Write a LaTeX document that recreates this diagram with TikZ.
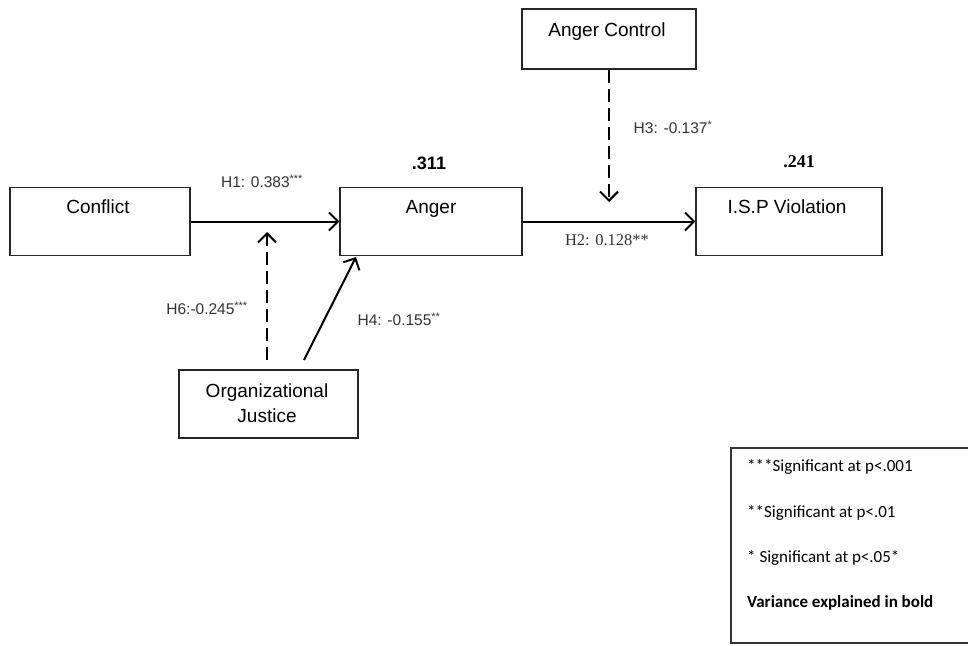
\documentclass[tikz,border=0pt]{standalone}
\usepackage{fontspec}
\setmainfont{Liberation Sans}
\newfontfamily\tmsfont{Liberation Serif}
\newfontfamily\calfont{Carlito}
\usetikzlibrary{arrows.meta}
\begin{document}
\begin{tikzpicture}[x=1pt,y=-1pt,
  box/.style={draw=black!85,line width=1.2pt,minimum width=#1,minimum height=68pt,inner sep=0pt},
  box/.default=180pt,
  boxtext/.style={font=\fontsize{19}{22}\selectfont,inner sep=0pt,anchor=base},
  lab/.style={font=\fontsize{15.5}{18}\selectfont,inner sep=0pt,text=black!80},
  conn/.style={line width=2pt,-{Straight Barb[length=9pt,width=18pt,line width=2pt]}},
  dconn/.style={conn,dash pattern=on 13pt off 6pt}]
\useasboundingbox (0,0) rectangle (968,645);
\fill[white] (0,0) rectangle (968,645);
% boxes
\node[box=180pt] (conflict) at (100,221.5) {};
\node[box=182pt] (anger) at (431,221.5) {};
\node[box=186pt] (isp) at (789,221.5) {};
\node[box=174pt,minimum height=60pt] (ac) at (609,39) {};
\node[box=179pt] (oj) at (268.5,404) {};
% box texts
\node[boxtext] (conflictT) at (98,213.5) {Conflict};
\node[boxtext] (angerT) at (431,213.5) {Anger};
\node[boxtext] (ispT) at (787,213.5) {I.S.P Violation};
\node[boxtext] (acT) at (607,36) {Anger Control};
\node[boxtext] (ojT1) at (267,397) {Organizational};
\node[boxtext] (ojT2) at (267,422) {Justice};
% coordinates
\coordinate (h3end) at (609,202);
\coordinate (h6start) at (267,360);
\coordinate (h6end) at (267,232);
\coordinate (h4start) at (304,360);
\coordinate (h4end) at (356,257);
% connectors
\draw[conn] (conflict.east) -- (anger.west);
\draw[conn] (anger.east) -- (isp.west);
\draw[dconn] (ac.south) -- (h3end);
\draw[dconn] (h6start) -- (h6end);
\draw[conn] (h4start) -- (h4end);
% labels
\node[lab] (h1) at (262,181) {H1: 0.383\textsuperscript{***}};
\node[lab] (h3) at (673,127) {H3: -0.137\textsuperscript{*}};
\node[lab] (h6) at (207,308) {H6:-0.245\textsuperscript{***}};
\node[lab] (h4) at (399,319) {H4: -0.155\textsuperscript{**}};
\node[inner sep=0pt,font=\tmsfont\fontsize{16.5}{18}\selectfont,text=black!80] (h2) at (607,240) {H2: 0.128**};
\node[inner sep=0pt,font=\bfseries\fontsize{18}{20}\selectfont] (r1) at (429,163) {.311};
\node[inner sep=0pt,font=\tmsfont\bfseries\fontsize{18}{20}\selectfont] (r2) at (799,162) {.241};
% legend
\draw[black!80,line width=1.2pt] (975,448) -- (731,448) -- (731,643) -- (975,643);
\node[inner sep=0pt,anchor=west,font=\calfont\fontsize{17}{20}\selectfont] (l1) at (747,467) {***Significant at p<.001};
\node[inner sep=0pt,anchor=west,font=\calfont\fontsize{17}{20}\selectfont] (l2) at (747,513) {**Significant at p<.01};
\node[inner sep=0pt,anchor=west,font=\calfont\fontsize{17}{20}\selectfont] (l3) at (747,558) {* Significant at p<.05*};
\node[inner sep=0pt,anchor=west,font=\calfont\bfseries\fontsize{17}{20}\selectfont] (l4) at (747,603) {Variance explained in bold};
\end{tikzpicture}
\end{document}
